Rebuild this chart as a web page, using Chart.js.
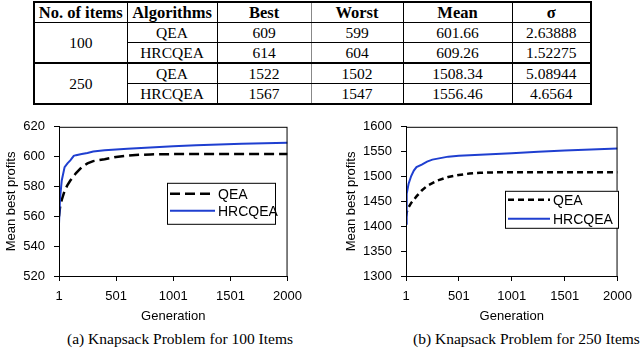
<!DOCTYPE html>
<html>
<head>
<meta charset="utf-8">
<script src="https://cdn.jsdelivr.net/npm/chart.js@4"></script>
<style>
    body { margin: 0; background: #fff; width: 640px; height: 358px; overflow: hidden; position: relative; }
    #tbl { position: absolute; left: 33px; top: 1px; width: 557px; table-layout: fixed; border-collapse: collapse; border: 2px solid #000;
           font-family: 'Liberation Serif', 'Times New Roman', serif; font-size: 15.5px; color: #000; }
    #tbl td, #tbl th { border: 1px solid #000; padding: 0; height: 19px; line-height: 18px; text-align: center; white-space: nowrap; }
    #tbl th { font-weight: bold; font-size: 16.5px; }
    #tbl tr.grp td { border-top: 2px solid #000; }
    #tbl .gray { border-right-color: #888; }
    .box { position: absolute; }
    .cap { position: absolute; top: 330px; font-family: 'Liberation Serif', 'Times New Roman', serif; font-size: 15.5px; color: #000; }
</style>
</head>
<body>
<table id="tbl"></table>
<div class="box" style="left:0px; top:110px; width:310px; height:218px;"><canvas id="chart1"></canvas></div>
<div class="box" style="left:340px; top:110px; width:300px; height:218px;"><canvas id="chart2"></canvas></div>
<div class="cap" style="left:67px;">(a) Knapsack Problem for 100 Items</div>
<div class="cap" style="left:413px;">(b) Knapsack Problem for 250 Items</div>

<script>
// table
var tblHead = ['No. of items', 'Algorithms', 'Best', 'Worst', 'Mean', 'σ'];
var tblItems = ['100', '250'];
var tblAlgs = ['QEA', 'HRCQEA'];
var tblBest = [609, 614, 1522, 1567];
var tblWorst = [599, 604, 1502, 1547];
var tblMean = ['601.66', '609.26', '1508.34', '1556.46'];
var tblSigma = ['2.63888', '1.52275', '5.08944', '4.6564'];

// 100 items
var gen100Qea = [1, 10, 25, 50, 75, 100, 150, 200, 250, 300, 400, 500, 600, 700, 800, 1000, 1500, 2000];
var val100Qea = [560, 566, 571, 577, 581, 584, 589, 593, 595.5, 597, 598.3, 599.8, 600.6, 601.2, 601.5, 601.7, 601.7, 601.7];
var gen100Hrc = [1, 10, 25, 50, 75, 100, 130, 150, 200, 250, 300, 400, 500, 600, 800, 1000, 1200, 1400, 1600, 1800, 2000];
var val100Hrc = [555, 572, 584, 593, 595.5, 597.5, 600.5, 601, 601.8, 602.5, 603.5, 604.3, 604.8, 605.3, 606.2, 607, 607.7, 608.2, 608.6, 609, 609.3];

// 250 items
var gen250Qea = [1, 10, 25, 50, 100, 150, 200, 300, 400, 500, 600, 700, 800, 1000, 1500, 2000];
var val250Qea = [1420, 1430, 1438, 1447, 1460, 1472, 1481, 1492, 1499, 1503, 1506, 1507.5, 1508.3, 1508.5, 1508.5, 1508.5];
var gen250Hrc = [1, 5, 10, 25, 50, 75, 100, 150, 200, 250, 300, 400, 500, 700, 1000, 1250, 1500, 1750, 2000];
var val250Hrc = [1405, 1445, 1465, 1485, 1501, 1512, 1519, 1524, 1530, 1534, 1536, 1540, 1542, 1544, 1547, 1550, 1552.5, 1554.5, 1556.5];

var genTicks = [1, 501, 1001, 1501, 2000];
var seriesNames = ['QEA', 'HRCQEA'];

var sansFont = "'Liberation Sans', Arial, sans-serif";
var blueColor = '#1f3fd0';

function buildTable() {
    var t = document.getElementById('tbl');
    var widths = [93, 90, 94, 92, 109, 79];
    var html = '<colgroup>';
    for (var c = 0; c < widths.length; c++) html += '<col style="width:' + widths[c] + 'px">';
    html += '</colgroup><tr>';
    for (var i = 0; i < tblHead.length; i++) {
        html += '<th' + (i == 2 ? ' class="gray"' : '') + '>' + tblHead[i] + '</th>';
    }
    html += '</tr>';
    for (var r = 0; r < 4; r++) {
        html += '<tr' + (r == 2 ? ' class="grp"' : '') + '>';
        if (r % 2 == 0) html += '<td rowspan="2">' + tblItems[r / 2] + '</td>';
        html += '<td>' + tblAlgs[r % 2] + '</td><td class="gray">' + tblBest[r] + '</td><td>' + tblWorst[r] +
            '</td><td>' + tblMean[r] + '</td><td>' + tblSigma[r] + '</td></tr>';
    }
    t.innerHTML = html;
}

function pts(xs, ys) {
    return xs.map(function (x, i) { return { x: x, y: ys[i] }; });
}

// frame round the plot and the legend box
function framePlugin(lg) {
    return {
        id: 'frame',
        afterDraw: function (chart) {
            var ctx = chart.ctx, a = chart.chartArea;
            ctx.save();
            ctx.strokeStyle = '#000';
            ctx.lineWidth = 1;
            ctx.strokeRect(a.left + 0.5, a.top + 0.5, a.right - a.left - 1, a.bottom - a.top);
            var bx = a.left + lg.x, by = a.top + lg.y;
            ctx.fillStyle = '#fff';
            ctx.fillRect(bx, by, lg.w, lg.h);
            ctx.strokeRect(bx + 0.5, by + 0.5, lg.w, lg.h);
            ctx.font = '14px ' + sansFont;
            ctx.textBaseline = 'middle';
            ctx.fillStyle = '#000';
            for (var i = 0; i < 2; i++) {
                var ds = chart.data.datasets[i];
                var ly = by + lg.rows[i];
                ctx.beginPath();
                ctx.strokeStyle = ds.borderColor;
                ctx.lineWidth = ds.borderWidth;
                ctx.setLineDash(ds.borderDash || []);
                ctx.moveTo(bx + 3, ly);
                ctx.lineTo(bx + 3 + lg.line, ly);
                ctx.stroke();
                ctx.setLineDash([]);
                ctx.fillText(ds.label, bx + 6 + lg.line, ly + 1);
            }
            ctx.restore();
        }
    };
}

function drawchart(id, qg, qv, hg, hv, yMin, yMax, yStep, dash, lg) {
    return new Chart(document.getElementById(id), {
        type: 'line',
        data: {
            datasets: [{
                label: seriesNames[0],
                data: pts(qg, qv),
                borderColor: '#000',
                borderWidth: 2.5,
                borderDash: dash,
                pointRadius: 0,
                order: 2
            }, {
                label: seriesNames[1],
                data: pts(hg, hv),
                borderColor: blueColor,
                borderWidth: 2,
                pointRadius: 0,
                order: 1
            }]
        },
        options: {
            animation: false,
            responsive: true,
            maintainAspectRatio: false,
            layout: { padding: { left: 0, top: 11, right: lg.padRight, bottom: 0 } },
            plugins: { legend: { display: false }, tooltip: { enabled: false } },
            scales: {
                x: {
                    type: 'linear',
                    min: 1,
                    max: 2000,
                    afterBuildTicks: function (s) { s.ticks = genTicks.map(function (v) { return { value: v }; }); },
                    afterFit: function (s) { s.height = 52; },
                    grid: { drawOnChartArea: false, drawTicks: true, tickLength: 5, color: '#000' },
                    border: { display: true, color: '#000' },
                    ticks: {
                        color: '#000', font: { family: sansFont, size: 13 }, padding: 8, maxRotation: 0, autoSkip: false,
                        callback: function (v) { return String(v); }
                    },
                    title: { display: true, text: 'Generation', color: '#000', font: { family: sansFont, size: 13 } }
                },
                y: {
                    min: yMin,
                    max: yMax,
                    afterFit: function (s) { s.width = lg.yWidth; },
                    grid: { drawOnChartArea: false, drawTicks: true, tickLength: 5, color: '#000' },
                    border: { display: true, color: '#000' },
                    ticks: {
                        stepSize: yStep, color: '#000', font: { family: sansFont, size: 13 }, padding: 9,
                        callback: function (v) { return String(v); }
                    },
                    title: { display: true, text: 'Mean best profits', color: '#000', font: { family: sansFont, size: 13 } }
                }
            }
        },
        plugins: [framePlugin(lg)]
    });
}

window.onload = function () {
    buildTable();
    drawchart('chart1', gen100Qea, val100Qea, gen100Hrc, val100Hrc, 520, 620, 20, [10, 5],
        { x: 108, y: 56, w: 108, h: 41, rows: [11, 28], line: 45, yWidth: 59, padRight: 14 });
    drawchart('chart2', gen250Qea, val250Qea, gen250Hrc, val250Hrc, 1300, 1600, 50, [6, 4],
        { x: 99, y: 64, w: 113, h: 37, rows: [9, 28], line: 42, yWidth: 66, padRight: 4 });
};
</script>
</body>
</html>
